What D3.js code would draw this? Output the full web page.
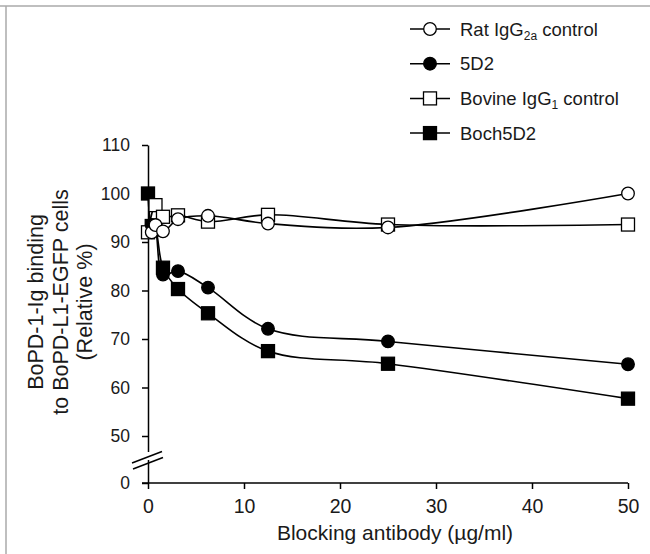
<!DOCTYPE html>
<html>
<head>
<meta charset="utf-8">
<script src="https://cdn.jsdelivr.net/npm/d3@7"></script>
<style>
  body { margin: 0; background: #fff; }
  svg { display: block; font-family: "Liberation Sans", Arial, sans-serif; }
</style>
</head>
<body>
<svg id="chart" width="650" height="554"></svg>
<script>
// dilution series (µg/ml) and relative binding (%)
const ratX = [0.39, 0.78, 1.56, 3.125, 6.25, 12.5, 25, 50];
const ratY = [92, 93.5, 92.2, 94.7, 95.4, 93.8, 93, 100];

const mab5d2X = [0.39, 0.78, 1.56, 3.125, 6.25, 12.5, 25, 50];
const mab5d2Y = [93.5, 92.5, 83.3, 84, 80.6, 72.1, 69.5, 64.8];

const bovineX = [0, 0.78, 1.56, 3.125, 6.25, 12.5, 25, 50];
const bovineY = [92, 97.6, 95.2, 95.5, 94.2, 95.6, 93.6, 93.6];

const boch5d2X = [0, 0.39, 0.78, 1.56, 3.125, 6.25, 12.5, 25, 50];
const boch5d2Y = [100, 93.3, 92.6, 84.7, 80.3, 75.3, 67.5, 64.9, 57.7];

const xTicks = [0, 10, 20, 30, 40, 50];
const yTicks = [0, 50, 60, 70, 80, 90, 100, 110];

const series = [
  { name: "Rat IgG", sub: "2a", rest: " control", xs: ratX, ys: ratY, shape: "circle", fill: "#fff" },
  { name: "5D2", sub: "", rest: "", xs: mab5d2X, ys: mab5d2Y, shape: "circle", fill: "#000" },
  { name: "Bovine IgG", sub: "1", rest: " control", xs: bovineX, ys: bovineY, shape: "square", fill: "#fff" },
  { name: "Boch5D2", sub: "", rest: "", xs: boch5d2X, ys: boch5d2Y, shape: "square", fill: "#000" }
];

const svg = d3.select("#chart");

// faint frame of the original figure
svg.append("line").attr("x1", 0).attr("x2", 650).attr("y1", 6).attr("y2", 6)
  .attr("stroke", "#aaa").attr("stroke-width", 1.5);
svg.append("line").attr("x1", 6).attr("x2", 6).attr("y1", 6).attr("y2", 554)
  .attr("stroke", "#aaa").attr("stroke-width", 1.5);

const x = d3.scaleLinear().domain([0, 50]).range([148, 628]);
// broken axis: 0 sits below the break, 50-110 above it
const y = d3.scaleLinear().domain([0, 50, 110]).range([483, 436, 145]);

const xAxis = svg.append("g")
  .attr("transform", `translate(0,${y(0)})`)
  .call(d3.axisBottom(x).tickValues(xTicks).tickSize(6).tickSizeOuter(0).tickPadding(10));

const yAxis = svg.append("g")
  .attr("transform", `translate(${x(0)},0)`)
  .call(d3.axisLeft(y).tickValues(yTicks).tickSize(6).tickSizeOuter(0).tickPadding(12));

[xAxis, yAxis].forEach(g => {
  g.select(".domain").attr("stroke", "#000").attr("stroke-width", 1.5);
  g.selectAll(".tick line").attr("stroke", "#000").attr("stroke-width", 1.5);
  g.selectAll(".tick text").attr("fill", "#1a1a1a")
    .attr("font-family", "Liberation Sans, Arial, sans-serif");
});
xAxis.selectAll(".tick text").attr("font-size", 19.5);
yAxis.selectAll(".tick text").attr("font-size", 17.5);
xAxis.select(".domain").attr("d", `M${x(0) - 6},0H${x(50)}`);

// axis break marks
const bx = x(0);
svg.append("rect").attr("x", bx - 3).attr("y", 452).attr("width", 6).attr("height", 8).attr("fill", "#fff");
svg.append("line").attr("x1", bx - 16).attr("y1", 463).attr("x2", bx + 14).attr("y2", 451.5)
  .attr("stroke", "#000").attr("stroke-width", 1.5);
svg.append("line").attr("x1", bx - 15).attr("y1", 469).attr("x2", bx + 15).attr("y2", 457.5)
  .attr("stroke", "#000").attr("stroke-width", 1.5);

const line = d3.line().curve(d3.curveCatmullRom.alpha(0.5))
  .x(d => x(d[0])).y(d => y(d[1]));

function marker(g, shape, fill) {
  if (shape === "circle") {
    g.append("circle").attr("r", 6.3).attr("fill", fill).attr("stroke", "#000").attr("stroke-width", 1.3);
  } else {
    g.append("rect").attr("x", -6.5).attr("y", -6.5).attr("width", 13).attr("height", 13)
      .attr("fill", fill).attr("stroke", "#000").attr("stroke-width", 1.3);
  }
}

series.forEach(s => {
  const pts = s.xs.map((v, i) => [v, s.ys[i]]);
  svg.append("path").datum(pts).attr("d", line)
    .attr("fill", "none").attr("stroke", "#000").attr("stroke-width", 1.6);
});

// draw markers after the lines, in reverse so the open symbols sit on top
series.slice().reverse().forEach(s => {
  s.xs.forEach((v, i) => {
    const g = svg.append("g").attr("transform", `translate(${x(v)},${y(s.ys[i])})`);
    marker(g, s.shape, s.fill);
  });
});

// axis titles
svg.append("text").attr("x", 395).attr("y", 540).attr("text-anchor", "middle")
  .attr("font-size", 21).attr("fill", "#1a1a1a").text("Blocking antibody (µg/ml)");

const yTitle = svg.append("text").attr("transform", "translate(0,302) rotate(-90)")
  .attr("text-anchor", "middle").attr("font-size", 21.5).attr("fill", "#1a1a1a");
yTitle.append("tspan").attr("x", 0).attr("y", 43).text("BoPD-1-Ig binding");
yTitle.append("tspan").attr("x", 0).attr("y", 67.5).text("to BoPD-L1-EGFP cells");
yTitle.append("tspan").attr("x", 0).attr("y", 92).text("(Relative %)");

// legend
const legend = svg.append("g");
series.forEach((s, i) => {
  const ly = 29 + i * 34.7;
  const g = legend.append("g").attr("transform", `translate(0,${ly})`);
  g.append("line").attr("x1", 410).attr("x2", 450).attr("y1", 0).attr("y2", 0)
    .attr("stroke", "#000").attr("stroke-width", 1.5);
  const m = g.append("g").attr("transform", "translate(430,0)");
  marker(m, s.shape, s.fill);
  const t = g.append("text").attr("x", 460).attr("y", 6.5).attr("font-size", 18.5).attr("fill", "#1a1a1a");
  t.append("tspan").text(s.name);
  if (s.sub) {
    t.append("tspan").attr("font-size", 12).attr("dy", 4).text(s.sub);
    t.append("tspan").attr("dy", -4).text(s.rest);
  }
});
</script>
</body>
</html>
